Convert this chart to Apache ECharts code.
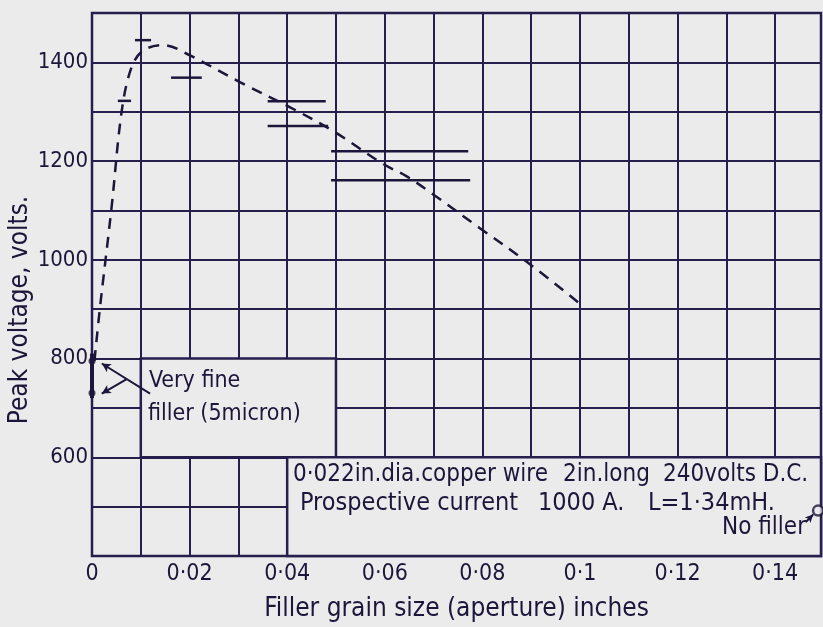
<!DOCTYPE html>
<html>
<head>
<meta charset="utf-8">
<script src="https://cdn.jsdelivr.net/npm/echarts@6/dist/echarts.min.js"></script>
<style>
  html, body { margin: 0; padding: 0; background: #ebebec; }
  #chart { width: 823px; height: 627px; }
</style>
</head>
<body>
<div id="chart"></div>
<script>
// Tick labels
const xTickLabels = ['0', '0·02', '0·04', '0·06', '0·08', '0·1', '0·12', '0·14'];
const yTickValues = [600, 800, 1000, 1200, 1400];

// Dashed trend curve: grain size (in) vs peak voltage (V)
const curveX = [0.0005, 0.0016, 0.0040, 0.0061, 0.0081, 0.0105, 0.0146, 0.0201, 0.0303, 0.0406, 0.0494, 0.0597, 0.0645, 0.0700, 0.0795, 0.0891, 0.1000];
const curveY = [795, 900, 1105, 1302, 1390, 1424, 1435, 1414, 1360, 1309, 1261, 1194, 1169, 1132, 1064, 996, 911];

// Measured results: aperture range (from, to) and peak voltage
const rangeFrom = [0.0088, 0.0162, 0.0053, 0.0360, 0.0360, 0.0490, 0.0490];
const rangeTo   = [0.0121, 0.0225, 0.0080, 0.0479, 0.0484, 0.0771, 0.0775];
const rangeVolt = [1445, 1369, 1322, 1321, 1271, 1220, 1161];

// Very fine filler (5 micron): spread and individual results
const fineSpread = [720, 810];
const fineX = [0, 0];
const fineY = [795, 730];

// No filler result
const noFillerX = [0.1488];
const noFillerY = [492];

const INK = '#1d153a';
const LINE = '#271e4d';
const BG = '#ebebec';
const FONT = "'DejaVu Sans Condensed', 'DejaVu Sans', sans-serif";

const chart = echarts.init(document.getElementById('chart'));

const curveData = curveX.map((x, i) => [x, curveY[i]]);
const rangeData = rangeFrom.map((x, i) => [x, rangeTo[i], rangeVolt[i]]);

function note(text, x, y, size, align) {
  return {
    type: 'text', x: x, y: y, z: 100,
    style: { text: text, font: size + 'px ' + FONT, fill: INK, align: align || 'left', verticalAlign: 'middle' }
  };
}

chart.setOption({
  backgroundColor: BG,
  animation: false,
  textStyle: { fontFamily: FONT, color: INK },
  grid: {
    left: 92, right: 2, top: 13, bottom: 71,
    show: true, borderColor: LINE, borderWidth: 2.5, backgroundColor: 'transparent'
  },
  xAxis: {
    type: 'value', min: 0, max: 0.1494, interval: 0.01,
    name: 'Filler grain size (aperture) inches',
    nameLocation: 'middle', nameGap: 40,
    nameTextStyle: { fontFamily: FONT, fontSize: 26, color: INK },
    axisLine: { show: false }, axisTick: { show: false },
    splitLine: { show: true, lineStyle: { color: LINE, width: 2 } },
    axisLabel: {
      fontFamily: FONT, fontSize: 23, color: INK, margin: 7,
      showMaxLabel: false,
      formatter: v => {
        const k = Math.round(v * 100);
        return k % 2 === 0 ? (xTickLabels[k / 2] || '') : '';
      }
    }
  },
  yAxis: {
    type: 'value', min: 400, max: 1500, interval: 100,
    axisLine: { show: false }, axisTick: { show: false },
    splitLine: { show: true, lineStyle: { color: LINE, width: 2 } },
    axisLabel: {
      fontFamily: FONT, fontSize: 22, color: INK, margin: 4,
      formatter: v => yTickValues.includes(Math.round(v)) ? String(Math.round(v)) : ''
    }
  },
  graphic: [
    { type: 'text', x: 20, y: 310, rotation: Math.PI / 2, z: 100,
      style: { text: 'Peak voltage, volts.', font: '26px ' + FONT, fill: INK, align: 'center', verticalAlign: 'middle' } },
    note('Very fine', 149, 381, 23),
    note('filler (5micron)', 148, 414, 23),
    note('0·022in.dia.copper wire', 293, 475, 24),
    note('2in.long', 563, 475, 24),
    note('240volts D.C.', 663, 475, 24),
    note('Prospective current', 300, 503, 25),
    note('1000 A.', 538, 503, 25),
    note('L=1·34mH.', 648, 503, 25),
    note('No filler', 806, 528, 24, 'right')
  ],
  series: [
    {
      // blank label panels cut out of the grid
      type: 'line', data: [], z: 1, silent: true,
      markArea: {
        silent: true,
        itemStyle: { color: BG, borderColor: LINE, borderWidth: 2.5 },
        label: { show: false },
        data: [
          [{ coord: [0.01, 800] }, { coord: [0.05, 600] }],
          [{ coord: [0.04, 600] }, { coord: [0.1494, 400] }]
        ]
      }
    },
    {
      type: 'line', data: curveData, smooth: 0.35, showSymbol: false, z: 3, silent: true,
      lineStyle: { color: INK, width: 2.5, type: [11, 8] }
    },
    {
      type: 'custom', data: rangeData, z: 3, silent: true,
      encode: { x: [0, 1], y: 2 },
      renderItem: (params, api) => {
        const a = api.coord([api.value(0), api.value(2)]);
        const b = api.coord([api.value(1), api.value(2)]);
        return { type: 'line', shape: { x1: a[0], y1: a[1], x2: b[0], y2: b[1] },
                 style: { stroke: INK, lineWidth: 2.5 } };
      }
    },
    {
      type: 'custom', data: [[0, fineSpread[0], fineSpread[1]]], z: 3, silent: true, clip: false,
      encode: { x: 0, y: [1, 2] },
      renderItem: (params, api) => {
        const a = api.coord([api.value(0), api.value(1)]);
        const b = api.coord([api.value(0), api.value(2)]);
        return { type: 'line', shape: { x1: a[0], y1: a[1], x2: b[0], y2: b[1] },
                 style: { stroke: INK, lineWidth: 4 } };
      }
    },
    {
      type: 'scatter', data: fineX.map((x, i) => [x, fineY[i]]), z: 4, silent: true, clip: false,
      symbol: 'circle', symbolSize: 7, itemStyle: { color: INK },
      markLine: {
        silent: true, symbol: ['none', 'arrow'], symbolSize: [7, 9],
        lineStyle: { color: INK, width: 2, type: 'solid' }, label: { show: false },
        data: [
          [{ coord: [0.0119, 729] }, { coord: [0.0020, 790] }],
          [{ coord: [0.0072, 759] }, { coord: [0.0020, 729] }]
        ]
      }
    },
    {
      type: 'scatter', data: noFillerX.map((x, i) => [x, noFillerY[i]]), z: 4, silent: true, clip: false,
      symbol: 'circle', symbolSize: 10,
      itemStyle: { color: BG, borderColor: INK, borderWidth: 2.5 },
      markLine: {
        silent: true, symbol: ['none', 'arrow'], symbolSize: [6, 8],
        lineStyle: { color: INK, width: 2, type: 'solid' }, label: { show: false },
        data: [
          [{ coord: [0.1463, 469] }, { coord: [0.1478, 484] }]
        ]
      }
    }
  ]
});
</script>
</body>
</html>
